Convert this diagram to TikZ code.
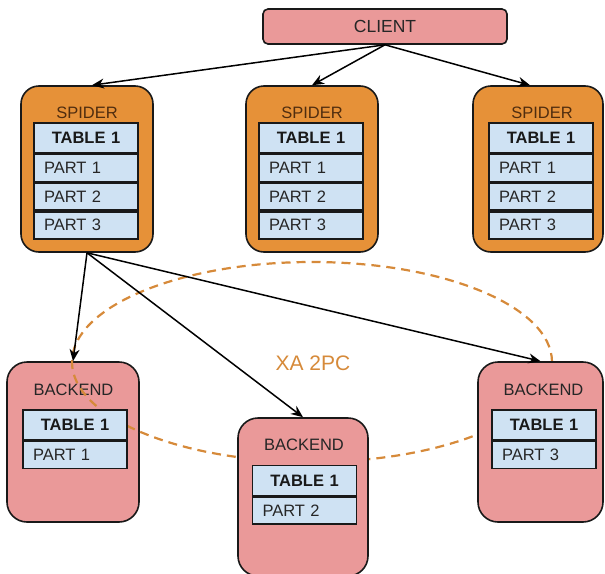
\documentclass[tikz,border=0pt]{standalone}
\usepackage{fontspec}
\setmainfont{Liberation Sans}
\usetikzlibrary{arrows.meta, positioning}
\definecolor{SpOrange}{RGB}{230, 145, 56}
\definecolor{BkPink}{RGB}{234, 153, 153}
\definecolor{TbBlue}{RGB}{207, 226, 243}
\definecolor{XAorange}{RGB}{214, 138, 58}
\definecolor{SpText}{RGB}{80, 45, 15}

\begin{document}
\begin{tikzpicture}[x=1pt, y=-1pt, font=\fontsize{16.5}{18}\selectfont, sp/.style={draw=black!90, line width=1.6pt, rounded corners=18pt, fill=SpOrange, minimum width=132pt, minimum height=166pt}, bk/.style={sp, fill=BkPink, rounded corners=20pt, minimum height=160pt}, lb/.style={inner sep=0pt, text=black!85}, hd/.style={draw=black!90, line width=1.6pt, fill=TbBlue, font=\fontsize{16.5}{18}\selectfont\bfseries, text=black!90, text width=84pt, inner xsep=10pt, inner ysep=0pt, minimum height=30pt, align=center}, pt/.style={hd, font=\fontsize{16.5}{18}\selectfont, text=black!85, minimum height=27pt, align=left}, ar/.style={-{Stealth[length=12pt, width=10pt]}, black, line width=1.5pt}]
\useasboundingbox (0,0) rectangle (605,573);
% first backend sits under the dashed ring
\node[bk] (b1) at (73,442) {};
\node[lb] (b1l) at (73.5,390) {BACKEND};
\draw[XAorange, line width=2.2pt, dash pattern=on 9pt off 6pt] (312,362) ellipse [x radius=240pt, y radius=100pt];
\node[text=XAorange, font=\fontsize{21}{24}\selectfont] (xa) at (313,363) {XA 2PC};
\node[hd] (b1h) at (75,425) {TABLE 1};
\node[pt, below=0pt of b1h] (b1p) {PART 1};
% client
\node[draw=black!90, line width=1.6pt, rounded corners=5pt, fill=BkPink, minimum width=244pt, minimum height=35pt, font=\fontsize{17.5}{20}\selectfont, text=black!85] (cl) at (385,26.5) {CLIENT};
% spiders
\node[sp] (s1) at (87,169) {};
\node[sp] (s2) at (312,169) {};
\node[sp, minimum width=130pt] (s3) at (538,169) {};
\node[lb, text=SpText] (s1l) at (87,113) {SPIDER};
\node[lb, text=SpText] (s2l) at (312,113) {SPIDER};
\node[lb, text=SpText] (s3l) at (542,113) {SPIDER};
\node[hd] (s1h) at (86,138) {TABLE 1};
\node[pt, below=0pt of s1h] (s1a) {PART 1};
\node[pt, below=0pt of s1a] (s1b) {PART 2};
\node[pt, below=0pt of s1b] (s1c) {PART 3};
\node[hd] (s2h) at (311,138) {TABLE 1};
\node[pt, below=0pt of s2h] (s2a) {PART 1};
\node[pt, below=0pt of s2a] (s2b) {PART 2};
\node[pt, below=0pt of s2b] (s2c) {PART 3};
\node[hd] (s3h) at (541,138) {TABLE 1};
\node[pt, below=0pt of s3h] (s3a) {PART 1};
\node[pt, below=0pt of s3a] (s3b) {PART 2};
\node[pt, below=0pt of s3b] (s3c) {PART 3};
% other backends
\node[bk, minimum width=130pt, minimum height=158pt] (b2) at (303,497) {};
\node[lb] (b2l) at (304,445) {BACKEND};
\node[hd] (b2h) at (304.5,480.5) {TABLE 1};
\node[pt, below=0pt of b2h] (b2p) {PART 2};
\node[bk, minimum width=125pt] (b3) at (540.5,442) {};
\node[lb] (b3l) at (543.5,390) {BACKEND};
\node[hd] (b3h) at (544,425) {TABLE 1};
\node[pt, below=0pt of b3h] (b3p) {PART 3};
% connectors
\draw[ar] (cl.south) -- ([xshift=5pt]s1.north); \draw[ar] (cl.south) -- (s2.north); \draw[ar] (cl.south) -- ([xshift=-8pt]s3.north);
\draw[ar] (s1.south) -- (b1.north); \draw[ar] (s1.south) -- (b2.north); \draw[ar] (s1.south) -- (b3.north);
\end{tikzpicture}
\end{document}
